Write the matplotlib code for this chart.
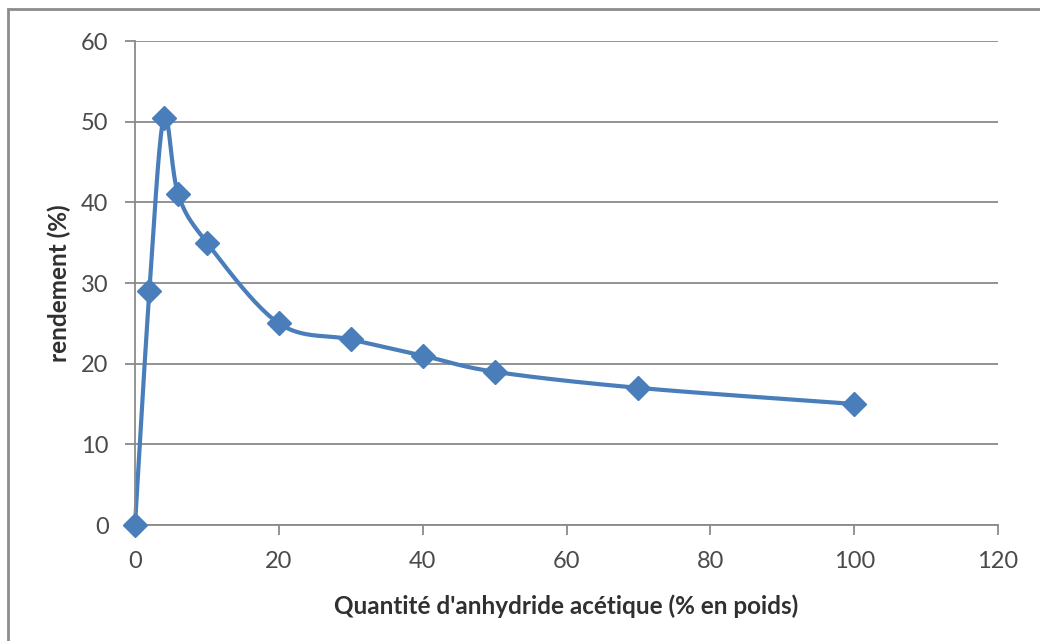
import matplotlib.pyplot as plt
import numpy as np
from matplotlib.patches import Rectangle

# Données
quantite = [0, 2, 4, 6, 10, 20, 30, 40, 50, 70, 100]
rendement = [0, 29, 50.5, 41, 35, 25, 23, 21, 19, 17, 15]

x_ticks = [0, 20, 40, 60, 80, 100, 120]
y_ticks = [0, 10, 20, 30, 40, 50, 60]

plt.rcParams['font.family'] = ['Lato', 'DejaVu Sans']

fig = plt.figure(figsize=(10.4, 6.41), dpi=100)
ax = fig.add_axes([135 / 1040, 1 - 525 / 641, (998 - 135) / 1040, (525 - 41) / 641])

# cadre gris autour du graphique
fig.patches.append(Rectangle((8 / 1040, -0.1), 1.2, 1 - 9 / 641 + 0.1,
                             transform=fig.transFigure, fill=False,
                             edgecolor='#8c8c8c', linewidth=2))

ax.set_xlim(0, 120)
ax.set_ylim(0, 60)
ax.set_xticks(x_ticks)
ax.set_yticks(y_ticks)
ax.grid(axis='y', color='#8a8a8a', linewidth=1.3)
ax.set_axisbelow(True)

for s in ['top', 'right']:
    ax.spines[s].set_visible(False)
ax.spines['left'].set_color('#8a8a8a')
ax.spines['bottom'].set_color('#8a8a8a')
ax.spines['left'].set_linewidth(1.3)
ax.spines['bottom'].set_linewidth(1.3)
ax.tick_params(axis='both', colors='#8a8a8a', length=7, width=1.3,
               labelcolor='#4a4a4a', labelsize=17)
ax.tick_params(axis='x', pad=12)
ax.tick_params(axis='y', pad=12)

# courbe lissée (style Excel : Bézier à partir des voisins)
pts = ax.transData.transform(np.column_stack([quantite, rendement]))
courbe = []
n = len(pts)
for i in range(n - 1):
    p0 = pts[max(i - 1, 0)]
    p1 = pts[i]
    p2 = pts[i + 1]
    p3 = pts[min(i + 2, n - 1)]
    c1 = p1 + (p2 - p0) / 6
    c2 = p2 - (p3 - p1) / 6
    t = np.linspace(0, 1, 40)[:, None]
    seg = (1 - t) ** 3 * p1 + 3 * (1 - t) ** 2 * t * c1 + 3 * (1 - t) * t ** 2 * c2 + t ** 3 * p2
    courbe.append(seg)
courbe = ax.transData.inverted().transform(np.vstack(courbe))

ax.plot(courbe[:, 0], courbe[:, 1], color='#4a7ebb', linewidth=3, clip_on=False)
ax.plot(quantite, rendement, linestyle='none', marker='D', markersize=12.5,
        color='#4a7ebb', markeredgecolor='#4a7ebb', clip_on=False, zorder=5)

ax.set_xlabel("Quantité d'anhydride acétique (% en poids)", fontsize=17.5,
              fontweight='bold', color='#303030', labelpad=16)
ax.set_ylabel("rendement (%)", fontsize=17.5, fontweight='bold', color='#303030',
              labelpad=7)

fig.savefig('out.png', dpi=100)
